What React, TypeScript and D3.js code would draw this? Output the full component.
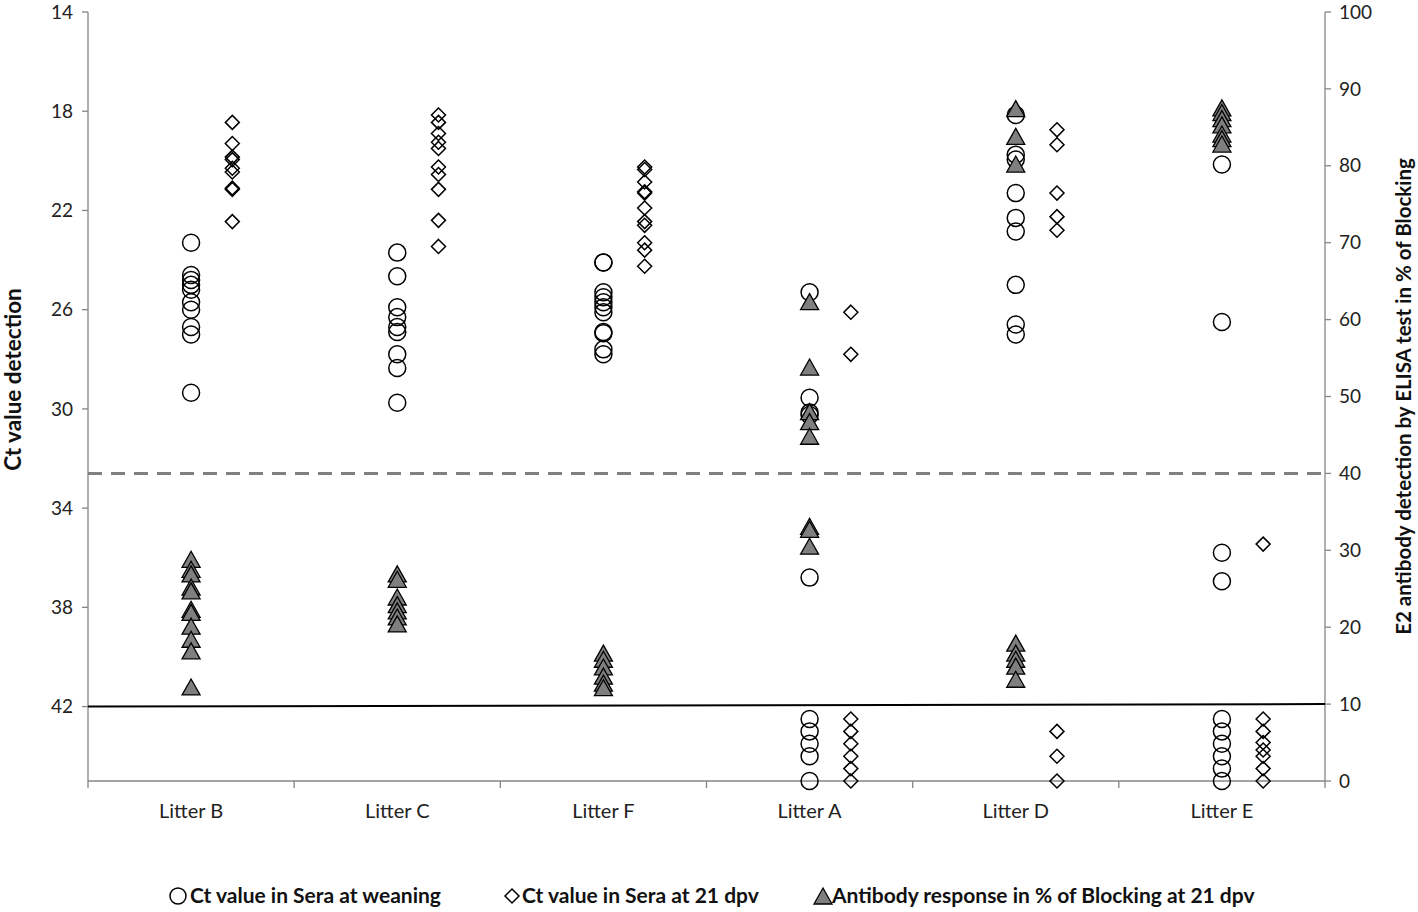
import React from "react";
import * as d3 from "d3";

const categories = ["Litter B", "Litter C", "Litter F", "Litter A", "Litter D", "Litter E"];

// Ct value in sera at weaning (left axis, Ct)
const weaningB = [23.3, 24.6, 24.8, 25.0, 25.2, 25.7, 26.0, 26.7, 27.0, 29.35];
const weaningC = [23.7, 24.65, 25.9, 26.3, 26.7, 26.9, 27.8, 28.35, 29.75];
const weaningF = [24.1, 24.1, 25.3, 25.5, 25.7, 25.9, 26.1, 26.9, 26.95, 27.6, 27.8];
const weaningA = [25.3, 29.55, 30.15, 30.25, 36.8, 42.5, 43.0, 43.5, 44.0, 45.0];
const weaningD = [18.15, 19.75, 19.95, 21.3, 22.3, 22.85, 25.0, 26.6, 27.0];
const weaningE = [20.15, 26.5, 35.8, 36.95, 42.5, 43.0, 43.5, 44.0, 44.5, 45.0];

// Ct value in sera at 21 dpv (left axis, Ct)
const dpvB = [18.45, 19.3, 19.85, 19.95, 20.3, 20.45, 21.1, 21.15, 22.45];
const dpvC = [18.15, 18.45, 18.9, 19.25, 19.5, 20.25, 20.55, 21.15, 22.4, 23.45];
const dpvF = [20.25, 20.35, 20.85, 21.25, 21.3, 21.9, 22.45, 22.6, 23.3, 23.6, 24.25];
const dpvA = [26.1, 27.8, 42.5, 43.0, 43.5, 44.0, 44.5, 45.0];
const dpvD = [18.75, 19.35, 21.3, 22.25, 22.8, 43.0, 44.0, 45.0];
const dpvE = [35.45, 42.5, 43.0, 43.45, 43.75, 44.0, 44.5, 45.0];

// Antibody response in % of blocking at 21 dpv (right axis, %)
const abB = [28.7, 27.4, 26.8, 25.1, 24.6, 22.2, 21.8, 20.0, 18.3, 16.8, 12.1];
const abC = [26.8, 26.1, 23.8, 22.8, 22.0, 21.2, 20.3];
const abF = [16.5, 15.7, 14.7, 13.5, 12.6, 12.0];
const abA = [62.2, 53.7, 47.9, 46.6, 44.7, 33.0, 32.6, 30.4];
const abD = [87.3, 83.7, 80.1, 17.8, 16.5, 15.7, 14.8, 13.1];
const abE = [87.4, 86.8, 86.0, 85.2, 84.0, 83.4, 82.7];

const weaning = [weaningB, weaningC, weaningF, weaningA, weaningD, weaningE];
const dpv = [dpvB, dpvC, dpvF, dpvA, dpvD, dpvE];
const antibody = [abB, abC, abF, abA, abD, abE];

const leftTicks = [14, 18, 22, 26, 30, 34, 38, 42];
const rightTicks = [0, 10, 20, 30, 40, 50, 60, 70, 80, 90, 100];

const cutoffPercent = 40; // dashed line (right axis)
const detectionLimitCt = 42; // solid line start (left axis)
const detectionLimitPct = 10; // solid line end (right axis)

const legendLabels = [
  "Ct value in Sera at weaning",
  "Ct value in Sera at 21 dpv",
  "Antibody response in % of Blocking at 21 dpv",
];

const FONT = "Lato, 'Open Sans', sans-serif";

export default function App() {
  const W = 1418;
  const H = 912;
  const left = 88;
  const right = 1325;
  const top = 12;
  const bottom = 781;

  const x = d3.scaleBand<string>().domain(categories).range([left, right]);
  const yL = d3.scaleLinear().domain([14, 45]).range([top, bottom]);
  const yR = d3.scaleLinear().domain([0, 100]).range([bottom, top]);
  const bw = x.bandwidth();
  const center = (c: string) => (x(c) as number) + bw / 2;
  const dOff = bw * 0.2;

  const axisColor = "#868686";
  const tri = (cx: number, cy: number) => {
    const h = 16, w = 18;
    return `M${cx},${cy - h / 2 - 1}L${cx + w / 2},${cy + h / 2 - 1}L${cx - w / 2},${cy + h / 2 - 1}Z`;
  };
  const dia = (cx: number, cy: number) => {
    const r = 7;
    return `M${cx},${cy - r}L${cx + r},${cy}L${cx},${cy + r}L${cx - r},${cy}Z`;
  };

  const boundaries = [...categories.map((c) => x(c) as number), right];

  return (
    <svg width={W} height={H} style={{ position: "absolute", left: 0, top: 0, background: "#fff" }}>
      {/* axes */}
      <line x1={left} x2={left} y1={top} y2={bottom} stroke={axisColor} strokeWidth={1.3} />
      <line x1={right} x2={right} y1={top} y2={bottom} stroke={axisColor} strokeWidth={1.3} />
      <line x1={left} x2={right} y1={bottom} y2={bottom} stroke={axisColor} strokeWidth={1.3} />
      {leftTicks.map((t) => (
        <g key={"l" + t}>
          <line x1={left - 6} x2={left} y1={yL(t)} y2={yL(t)} stroke={axisColor} strokeWidth={1.3} />
          <text x={left - 15} y={yL(t)} dy="0.35em" textAnchor="end" fontFamily={FONT} fontSize={19} fill="#222">
            {t}
          </text>
        </g>
      ))}
      {rightTicks.map((t) => (
        <g key={"r" + t}>
          <line x1={right} x2={right + 6} y1={yR(t)} y2={yR(t)} stroke={axisColor} strokeWidth={1.3} />
          <text x={right + 14} y={yR(t)} dy="0.35em" textAnchor="start" fontFamily={FONT} fontSize={19} fill="#222">
            {t}
          </text>
        </g>
      ))}
      {boundaries.map((b, i) => (
        <line key={"b" + i} x1={b} x2={b} y1={bottom} y2={bottom + 7} stroke={axisColor} strokeWidth={1.3} />
      ))}
      {categories.map((c) => (
        <text key={c} x={center(c)} y={818} textAnchor="middle" fontFamily={FONT} fontSize={20} fill="#222">
          {c}
        </text>
      ))}

      {/* axis titles */}
      <text
        transform={`translate(21,${(top + bottom) / 2 - 17}) rotate(-90)`}
        textAnchor="middle"
        fontFamily={FONT}
        fontSize={22.5}
        fontWeight="bold"
        fill="#111"
      >
        Ct value detection
      </text>
      <text
        transform={`translate(1411,${(top + bottom) / 2}) rotate(-90)`}
        textAnchor="middle"
        fontFamily={FONT}
        fontSize={20.5}
        fontWeight="bold"
        fill="#111"
      >
        E2 antibody detection by ELISA test in % of Blocking
      </text>

      {/* reference lines */}
      <line
        x1={left}
        x2={right}
        y1={yR(cutoffPercent)}
        y2={yR(cutoffPercent)}
        stroke="#808080"
        strokeWidth={3}
        strokeDasharray="14 9"
      />
      <line
        x1={left}
        x2={right}
        y1={yL(detectionLimitCt)}
        y2={yR(detectionLimitPct)}
        stroke="#000"
        strokeWidth={2}
      />

      {/* points */}
      {categories.map((c, i) => (
        <g key={"pts" + c}>
          {weaning[i].map((v, j) => (
            <circle key={"w" + j} cx={center(c)} cy={yL(v)} r={8.5} fill="none" stroke="#000" strokeWidth={1.5} />
          ))}
          {dpv[i].map((v, j) => (
            <path key={"d" + j} d={dia(center(c) + dOff, yL(v))} fill="none" stroke="#000" strokeWidth={1.5} />
          ))}
          {antibody[i].map((v, j) => (
            <path key={"a" + j} d={tri(center(c), yR(v))} fill="#7f7f7f" stroke="#000" strokeWidth={1.3} />
          ))}
        </g>
      ))}

      {/* legend */}
      <g fontFamily={FONT} fontSize={21} fontWeight="bold" fill="#111">
        <circle cx={178} cy={896} r={8} fill="none" stroke="#000" strokeWidth={1.5} />
        <text x={190} y={896} dy="0.35em">{legendLabels[0]}</text>
        <path d={dia(512, 896)} fill="none" stroke="#000" strokeWidth={1.5} />
        <text x={522} y={896} dy="0.35em">{legendLabels[1]}</text>
        <path d={tri(823, 897)} fill="#7f7f7f" stroke="#000" strokeWidth={1.3} />
        <text x={832} y={896} dy="0.35em">{legendLabels[2]}</text>
      </g>
    </svg>
  );
}
